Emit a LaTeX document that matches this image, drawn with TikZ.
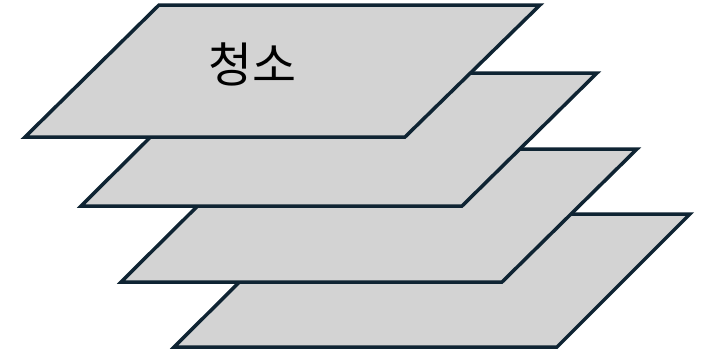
\documentclass[tikz,border=0pt]{standalone}
\usepackage{fontspec}
\newfontfamily\cjk{Noto Sans CJK KR}
\definecolor{edge}{HTML}{0F2433}
\definecolor{sheet}{HTML}{D3D3D3}
\tikzset{sheetstyle/.style={draw=edge,fill=sheet,line width=3.5bp,line join=miter}}
\begin{document}
\begin{tikzpicture}[x=1bp,y=-1bp]
\useasboundingbox (0,0) rectangle (705,356);
\draw[sheetstyle] (308,214) coordinate (d1) -- (690,214) coordinate (d2) -- (557,347) coordinate (d3) -- (174,347) coordinate (d4) -- cycle;
\draw[sheetstyle] (255,149) coordinate (c1) -- (637,149) coordinate (c2) -- (502,282) coordinate (c3) -- (121,282) coordinate (c4) -- cycle;
\draw[sheetstyle] (215,73) coordinate (b1) -- (597,73) coordinate (b2) -- (462,206) coordinate (b3) -- (81,206) coordinate (b4) -- cycle;
\draw[sheetstyle] (159,5) coordinate (a1) -- (540,5) coordinate (a2) -- (405,137) coordinate (a3) -- (25,137) coordinate (a4) -- cycle;
\node[font=\cjk\fontsize{48}{54}\selectfont,text=black,inner sep=0] (label) at (252,64) {청소};
\end{tikzpicture}
\end{document}
